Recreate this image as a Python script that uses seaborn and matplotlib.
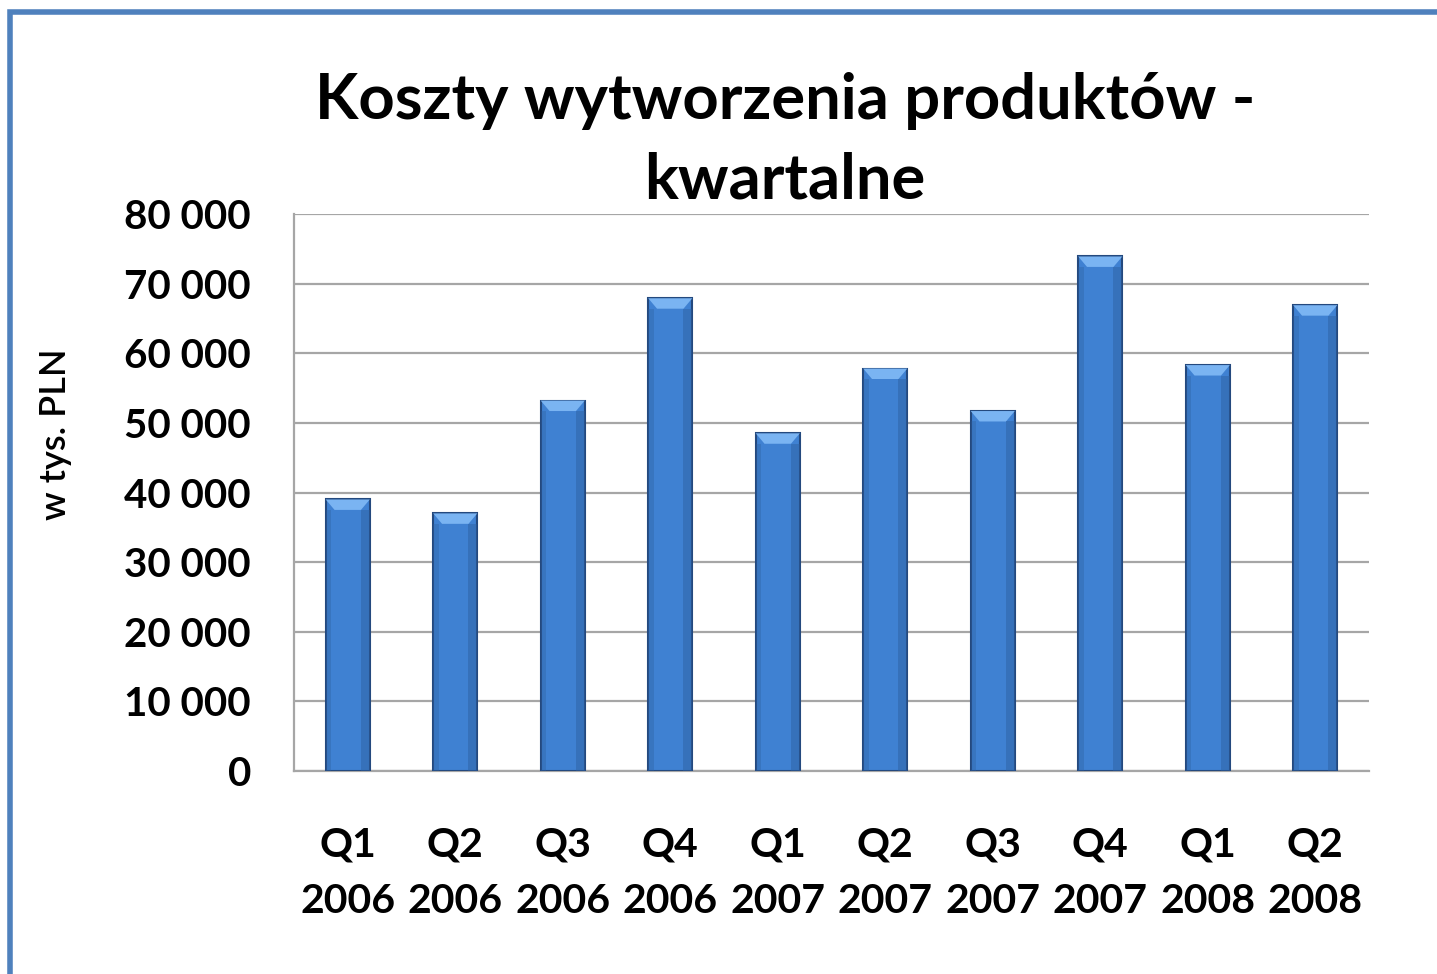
import matplotlib
matplotlib.use("Agg")
import matplotlib.pyplot as plt
import seaborn as sns
import pandas as pd
import numpy as np
from matplotlib.patches import Rectangle, Polygon
from matplotlib.ticker import FuncFormatter, FixedLocator

quarters = ["Q1\n2006", "Q2\n2006", "Q3\n2006", "Q4\n2006", "Q1\n2007",
            "Q2\n2007", "Q3\n2007", "Q4\n2007", "Q1\n2008", "Q2\n2008"]
costs = [39000, 37000, 53200, 67900, 48500, 57800, 51700, 73900, 58300, 66900]
title = "Koszty wytworzenia produktów -\nkwartalne"
ylabel = "w tys. PLN"

sns.set_theme(style="white")
plt.rcParams['font.family'] = ['Lato', 'DejaVu Sans']

df = pd.DataFrame({"kwartal": quarters, "koszt": costs})

fig = plt.figure(figsize=(14.37, 9.74), dpi=100)
ax = fig.add_axes([294/1437, 1-771/974, (1369-294)/1437, (771-214)/974])

sns.barplot(data=df, x="kwartal", y="koszt", color="#3f81d2", width=0.41,
            saturation=1, edgecolor="#24497e", linewidth=1.5, ax=ax, zorder=3)

# bevel highlight on top of each bar, derived from drawn patches
for p in ax.patches:
    x0, y0 = p.get_x(), p.get_y()
    w, h = p.get_width(), p.get_height()
    top = y0 + h
    d = 1500
    poly = Polygon([[x0, top], [x0 + w, top], [x0 + w*0.8, top - d], [x0 + w*0.2, top - d]],
                   closed=True, facecolor="#7ab4f2", edgecolor="none", zorder=4)
    ax.add_patch(poly)
    ax.add_patch(Rectangle((x0 + w*0.8, y0), w*0.2, h - d, facecolor="#2d5f9e",
                           alpha=0.45, edgecolor="none", zorder=4))
    ax.add_patch(Rectangle((x0, y0), w*0.12, h - d, facecolor="#2d5f9e",
                           alpha=0.35, edgecolor="none", zorder=4))

ax.set_ylim(0, 80000)
ax.set_xlim(-0.5, len(quarters) - 0.5)
ax.set_yticks(np.arange(0, 80001, 10000))
ax.yaxis.set_major_formatter(FuncFormatter(lambda v, _: f"{int(v):,}".replace(",", " ")))
ax.grid(axis="y", color="#a6a6a6", linewidth=1.6, zorder=0)
ax.set_axisbelow(True)

for s in ["top", "right"]:
    ax.spines[s].set_visible(False)
for s in ["left", "bottom"]:
    ax.spines[s].set_color("#a6a6a6")
    ax.spines[s].set_linewidth(1.6)

ax.xaxis.set_minor_locator(FixedLocator(np.arange(-0.5, len(quarters), 1.0)))
ax.tick_params(axis="x", which="major", length=0, pad=40, labelsize=29.5)
ax.tick_params(axis="x", which="minor", length=11, width=1.6, color="#a6a6a6", direction="out")
ax.tick_params(axis="y", which="major", length=10, width=1.6, color="#a6a6a6", direction="out",
               labelsize=29, pad=21)
for lab in ax.get_xticklabels() + ax.get_yticklabels():
    lab.set_fontweight("bold")
    lab.set_color("black")
for lab in ax.get_xticklabels():
    lab.set_linespacing(1.64)

ax.set_xlabel("")
ax.set_ylabel(ylabel, fontsize=26, fontweight="semibold", color="black")
ax.yaxis.set_label_coords((72 - 294) / 1075, (771 - 434) / 557)

fig.text(785/1437, 1 - 72/974, title, ha="center", va="top", fontsize=45.5,
         fontweight="bold", color="black", linespacing=1.45)

# outer chart border (blue frame)
fig.add_artist(Rectangle((10/1437, -0.05), 1.2, 1 - 12/974 + 0.05, transform=fig.transFigure,
                         fill=False, edgecolor="#4f81bd", linewidth=4))

fig.savefig("out.png", dpi=100)
